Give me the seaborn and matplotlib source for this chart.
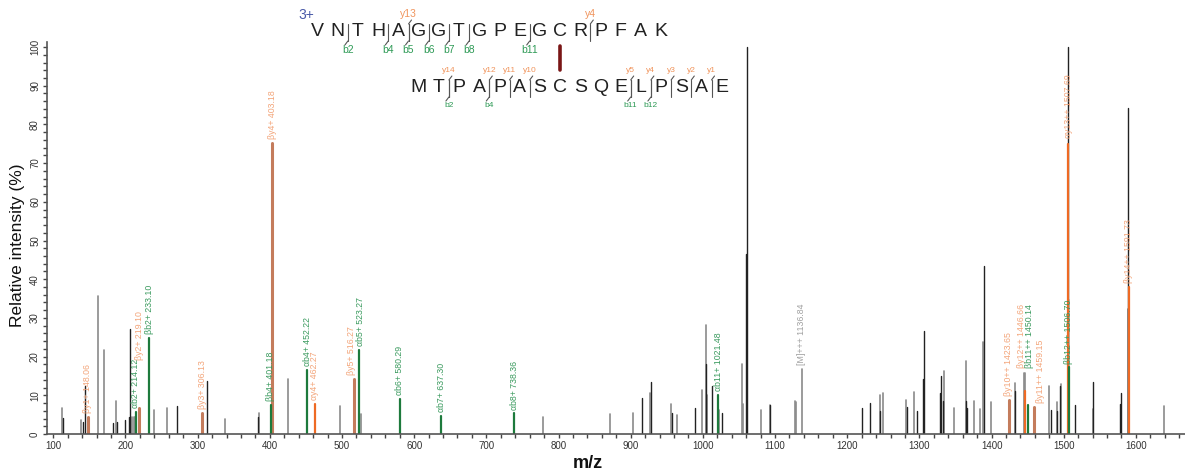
import numpy as np
import pandas as pd
import seaborn as sns
import matplotlib.pyplot as plt
from matplotlib.ticker import MultipleLocator
from matplotlib.lines import Line2D

# unannotated peaks (dark)
black_mz = [113.8, 140.6, 143.4, 183.0, 188.0, 200.0, 205.2, 205.7, 271.7, 313.2, 383.8,
            915.0, 928.0, 956.6, 988.5, 1004.7, 1012.0, 1027.0, 1060.3, 1061.2, 1093.3,
            1221.0, 1232.0, 1246.0, 1282.6, 1297.0, 1305.5, 1307.0, 1329.0, 1330.5, 1333.0,
            1364.0, 1366.0, 1389.4, 1423.8, 1432.8, 1482.6, 1490.4, 1495.0, 1505.5, 1505.9,
            1515.0, 1540.0, 1578.4, 1579.8, 1589.0]
black_int = [4.1, 3.1, 12.3, 2.9, 3.2, 3.5, 4.4, 27.1, 7.3, 13.7, 4.4,
             9.3, 13.4, 5.5, 6.6, 18.2, 12.5, 5.4, 46.5, 100.0, 7.4,
             6.6, 8.1, 6.0, 7.1, 6.0, 14.1, 26.5, 10.5, 15.1, 8.4,
             8.6, 6.6, 43.3, 6.5, 11.0, 6.3, 6.0, 12.3, 34.9, 100.0,
             7.4, 13.5, 7.8, 10.6, 84.2]

# unannotated peaks (light)
gray_mz = [112.0, 139.0, 161.8, 170.1, 186.3, 209.4, 211.2, 212.6, 238.9, 256.9, 338.0,
           385.6, 425.6, 496.8, 525.9, 779.0, 871.0, 903.0, 926.6, 955.7, 964.0, 999.2,
           1004.7, 1006.0, 1022.0, 1054.7, 1055.6, 1080.0, 1093.3, 1127.5, 1129.3, 1245.0,
           1249.5, 1281.0, 1292.0, 1333.5, 1348.6, 1364.7, 1376.0, 1384.0, 1388.0, 1399.0,
           1432.6, 1444.5, 1447.0, 1480.0, 1490.0, 1496.3, 1507.3, 1540.0, 1589.4, 1638.5]
gray_int = [6.8, 3.7, 35.7, 21.7, 8.5, 4.4, 4.4, 4.4, 6.2, 6.8, 4.0,
            5.3, 14.2, 7.3, 5.1, 4.3, 5.1, 5.5, 10.6, 7.7, 4.8, 11.3,
            28.2, 10.1, 6.1, 18.2, 7.7, 6.3, 7.4, 8.4, 8.2, 10.2,
            10.5, 8.8, 10.9, 16.3, 6.8, 18.8, 8.4, 6.5, 23.7, 8.2,
            13.2, 15.8, 15.8, 12.4, 8.3, 12.8, 11.2, 6.5, 32.2, 7.3]

# y ions
y_mz = [148.06, 219.10, 306.13, 403.18, 516.27, 1423.65, 1459.15]
y_int = [4.3, 6.7, 5.4, 75.2, 14.2, 8.8, 7.0]
y_lab = ["βy1+ 148.06", "βy2+ 219.10", "βy3+ 306.13", "βy4+ 403.18", "βy5+ 516.27",
         "βy10++ 1423.65", "βy11++ 1459.15"]
y2_mz = [462.27, 1446.66, 1506.0, 1590.2]
y2_int = [7.8, 11.2, 75.0, 38.0]
y2_lab = ["αy4+ 462.27", "βy12++ 1446.66", "αy13++ 1507.69", "βy14++ 1591.73"]

# b ions
b_mz = [214.12, 233.10, 401.18, 452.22, 523.27, 580.29, 637.30, 738.36, 1021.48, 1450.14, 1506.70]
b_int = [5.6, 24.9, 7.4, 16.6, 21.8, 9.0, 4.7, 5.3, 10.2, 7.4, 17.2]
b_lab = ["αb2+ 214.12", "βb2+ 233.10", "βb4+ 401.18", "αb4+ 452.22", "αb5+ 523.27",
         "αb6+ 580.29", "αb7+ 637.30", "αb8+ 738.36", "αb11+ 1021.48", "βb11++ 1450.14",
         "βb12++ 1506.70"]

prec_mz = [1136.84]
prec_int = [16.8]
prec_lab = ["[M]+++ 1136.84"]

# peptides
alpha_seq = "VNTHAGGTGPEGCRPFAK"
beta_seq = "MTPAPASCSQELPSAE"
alpha_b = [2, 4, 5, 6, 7, 8, 11]
alpha_y = [13, 4]
beta_b = [2, 4, 11, 12]
beta_y = [14, 12, 11, 10, 5, 4, 3, 2, 1]

sns.set_style("ticks")
plt.rcParams['font.family'] = ['Liberation Sans', 'DejaVu Sans']

W, H = 1185, 474
fig = plt.figure(figsize=(W / 100, H / 100), dpi=100)
ax = fig.add_axes([47 / W, 1 - 434 / H, (W - 47) / W, (434 - 42) / H])

# labels lifted above neighbouring peaks, as in the original
lifted = {"βy2+ 219.10": 19.0, "βy10++ 1423.65": 9.8, "βy12++ 1446.66": 17.0,
          "βb11++ 1450.14": 17.0, "αy13++ 1507.69": 76.5}
# small sideways nudges (m/z units) so crowded labels stay readable
nudge = {"βy5+ 516.27": -3, "αb5+ 523.27": 3, "βy12++ 1446.66": -5,
         "βb11++ 1450.14": 3, "βy11++ 1459.15": 8}


def sticks(mz, inten, color, lw):
    n = len(mz)
    df = pd.DataFrame({
        "mz": np.repeat(mz, 2),
        "rel": np.column_stack([np.zeros(n), inten]).ravel(),
        "pk": np.repeat(np.arange(n), 2),
    })
    sns.lineplot(data=df, x="mz", y="rel", units="pk", estimator=None,
                 color=color, lw=lw, ax=ax, legend=False)


def labels(mz, inten, texts, color):
    for m, h, t in zip(mz, inten, texts):
        base = lifted.get(t, h + 1.0)
        ax.text(m + nudge.get(t, 0), base, t, rotation=90, ha="center", va="bottom",
                fontsize=6.3, color=color)


sticks(gray_mz, gray_int, "#8a8a8a", 1.2)
sticks(black_mz, black_int, "#222222", 1.0)
sticks(prec_mz, prec_int, "#8a8a8a", 1.2)
sticks(y_mz, y_int, "#c47c5c", 2.2)
sticks(y2_mz, y2_int, "#ee6a24", 1.6)
sticks(b_mz, b_int, "#1d7a3c", 1.6)

labels(y_mz, y_int, y_lab, "#f3a57a")
labels(y2_mz, y2_int, y2_lab, "#f3a57a")
labels(b_mz, b_int, b_lab, "#3a9a5e")
labels(prec_mz, prec_int, prec_lab, "#a0a0a0")

ax.set_xlim(91.3, 1668)
ax.set_ylim(0, 101.3)
ax.xaxis.set_major_locator(MultipleLocator(100))
ax.xaxis.set_minor_locator(MultipleLocator(20))
ax.yaxis.set_major_locator(MultipleLocator(10))
ax.yaxis.set_minor_locator(MultipleLocator(2))
ax.tick_params(axis="both", which="both", length=3, width=1, color="#444444",
               labelsize=7, labelcolor="#333333", pad=2)
for lab in ax.get_yticklabels():
    lab.set_rotation(90)
    lab.set_va("center")
sns.despine(ax=ax)
for s in ["left", "bottom"]:
    ax.spines[s].set_color("#555555")
    ax.spines[s].set_linewidth(1.2)
ax.set_xlabel("")
ax.set_ylabel("")
fig.text(18 / W, 1 - 245 / H, "Relative intensity (%)", rotation=90,
         ha="center", va="center", fontsize=12.5, color="#111111")
fig.text(588 / W, 1 - 463 / H, "m/z", ha="center", va="center",
         fontsize=13, fontweight="bold", color="#111111")


# sequence display, pixel coords from top-left
def px(x, y):
    return x / W, 1 - y / H


step = 20.2
xc = 560
orange_t = "#f0945c"
green_t = "#2e9a56"
line_c = "#555555"


def draw_peptide(seq, link, y_mid, y_top, y_bot, bpos, ypos, lab_fs, b_y, y_y):
    x0 = xc - link * step
    for i, ch in enumerate(seq):
        fig.text(*px(x0 + i * step, y_mid), ch, ha="center", va="center",
                 fontsize=14, color="#222222")
    n = len(seq)
    for k in bpos:
        xm = x0 + (k - 0.5) * step
        fig.add_artist(Line2D([xm / W, xm / W], [1 - y_top / H, 1 - y_bot / H],
                              color=line_c, lw=0.8))
        fig.add_artist(Line2D([xm / W, (xm - 3) / W], [1 - y_bot / H, 1 - (y_bot + 4) / H],
                              color=line_c, lw=0.8))
        fig.text(*px(xm, b_y), "b" + str(k), ha="center", va="center",
                 fontsize=lab_fs, color=green_t)
    for k in ypos:
        xm = x0 + (n - k - 0.5) * step
        fig.add_artist(Line2D([xm / W, xm / W], [1 - y_top / H, 1 - y_bot / H],
                              color=line_c, lw=0.8))
        fig.add_artist(Line2D([xm / W, (xm + 3) / W], [1 - y_top / H, 1 - (y_top - 4) / H],
                              color=line_c, lw=0.8))
        fig.text(*px(xm, y_y), "y" + str(k), ha="center", va="center",
                 fontsize=lab_fs, color=orange_t)


draw_peptide(alpha_seq, alpha_seq.index("C"), 31, 24, 41, alpha_b, alpha_y, 7.5, 50, 14)
draw_peptide(beta_seq, beta_seq.index("C"), 87, 80, 97, beta_b, beta_y, 6, 106, 71)
fig.add_artist(Line2D([xc / W, xc / W], [1 - 46 / H, 1 - 70 / H], color="#7a1616", lw=2.6))
fig.text(*px(306, 15), "3+", ha="center", va="center", fontsize=10, color="#4a5aa8")

fig.savefig("out.png", dpi=100)
